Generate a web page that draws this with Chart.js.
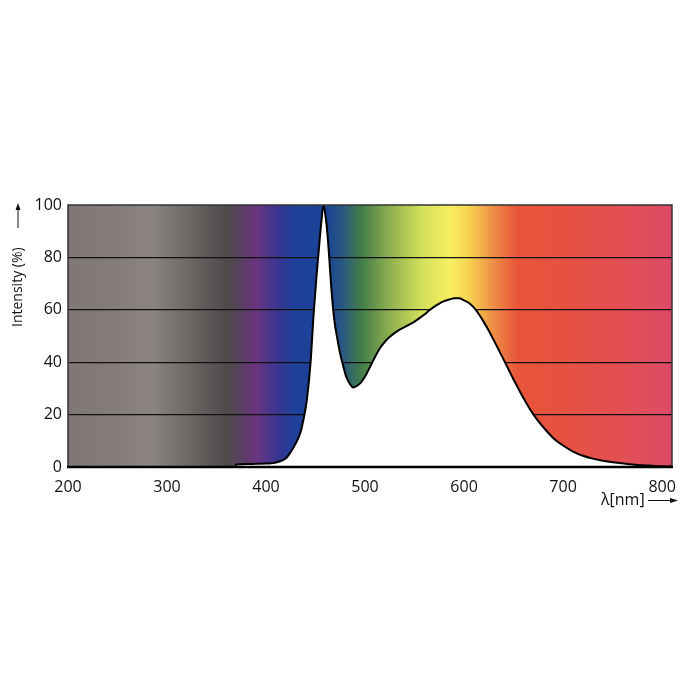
<!DOCTYPE html>
<html>
<head>
<meta charset="utf-8">
<script src="https://cdn.jsdelivr.net/npm/chart.js@4.4.1/dist/chart.umd.min.js"></script>
<style>
  body { margin: 0; background: #fff; }
  #wrap { width: 700px; height: 700px; }
</style>
</head>
<body>
<div id="wrap"><canvas id="spectrum" width="700" height="700"></canvas></div>
<script>
// wavelengths (nm) and relative intensity (%)
const wavelengths = [200, 369, 370, 380, 390, 400, 405, 410, 415, 420, 425, 430, 435, 438, 441, 445, 448, 451, 454, 456, 458, 460, 462, 464, 466, 469, 472, 475, 478, 481, 485, 488, 492, 496, 500, 505, 510, 515, 520, 525, 530, 535, 540, 545, 550, 555, 560, 565, 570, 575, 580, 585, 590, 595, 600, 605, 610, 615, 620, 625, 630, 635, 640, 645, 650, 655, 660, 665, 670, 675, 680, 690, 700, 710, 720, 730, 740, 750, 760, 770, 780, 790, 800, 810];
const intensity = [0, 0, 1.0, 1.1, 1.2, 1.3, 1.4, 1.7, 2.3, 3.3, 5.8, 9.0, 13.5, 18.5, 25, 40, 58, 73, 86, 94, 100, 96, 89, 79, 68, 56, 49, 43, 38.5, 34.5, 31.5, 30.3, 31, 32.3, 34.5, 38.2, 42, 45.3, 47.8, 49.7, 51.2, 52.4, 53.4, 54.4, 55.5, 56.8, 58.2, 59.8, 61.2, 62.4, 63.3, 63.9, 64.4, 64.4, 63.6, 62.6, 60.8, 58.3, 55.3, 52, 48.4, 44.7, 41, 37.2, 33.4, 29.8, 26.3, 23, 20.1, 17.5, 15.2, 11.1, 8.2, 5.9, 4.3, 3.2, 2.4, 1.8, 1.4, 1.0, 0.7, 0.5, 0.3, 0.2];

const xTicks = [200, 300, 400, 500, 600, 700, 800];
const yTicks = [0, 20, 40, 60, 80, 100];

// background spectrum colours (nm -> colour)
const bandNm = [199, 250, 285, 326, 360, 375, 390, 411, 427, 461, 478, 495, 525, 556, 586, 606, 630, 654, 697, 765, 810];
const bandColor = ['#7e7776', '#847d7c', '#8a8482', '#6a6462', '#4e4a4b', '#5a4060', '#6b3480', '#3a3590', '#1f409a', '#1a4495', '#2a5a80', '#3f7a4a', '#8fb050', '#d0de5a', '#f8f060', '#f6d050', '#ee8c45', '#e8553a', '#e65240', '#e24f55', '#dc4a68'];

const FONT = '"Open Sans", "DejaVu Sans", sans-serif';

const spectrumBg = {
    id: 'spectrumBg',
    beforeDraw(chart) {
        const { ctx, chartArea: a, scales: { x } } = chart;
        const g = ctx.createLinearGradient(a.left, 0, a.right, 0);
        bandNm.forEach((nm, i) => {
            let t = (x.getPixelForValue(nm) - a.left) / (a.right - a.left);
            g.addColorStop(Math.min(1, Math.max(0, t)), bandColor[i]);
        });
        ctx.save();
        ctx.fillStyle = g;
        ctx.fillRect(a.left, a.top, a.right - a.left, a.bottom - a.top);
        ctx.restore();
    }
};

// frame + axis titles with arrows
const frameAndTitles = {
    id: 'frameAndTitles',
    afterDatasetsDraw(chart) {
        const { ctx, chartArea: a } = chart;
        ctx.save();
        ctx.strokeStyle = '#333';
        ctx.lineWidth = 1.5;
        ctx.beginPath();
        ctx.moveTo(a.left, a.bottom);
        ctx.lineTo(a.left, a.top);
        ctx.lineTo(a.right, a.top);
        ctx.lineTo(a.right, a.bottom);
        ctx.stroke();
        ctx.strokeStyle = '#000';
        ctx.lineWidth = 2.5;
        ctx.beginPath();
        ctx.moveTo(a.left - 1, a.bottom);
        ctx.lineTo(a.right + 1, a.bottom);
        ctx.stroke();
        ctx.restore();
    },
    afterDraw(chart) {
        const { ctx } = chart;
        ctx.save();
        ctx.fillStyle = '#111';
        ctx.strokeStyle = '#111';
        ctx.font = '14px ' + FONT;

        // y title
        ctx.save();
        ctx.translate(18, 327);
        ctx.rotate(-Math.PI / 2);
        ctx.textAlign = 'left';
        ctx.textBaseline = 'middle';
        ctx.fillText('Intensity (%)', 0, 0);
        ctx.restore();
        ctx.lineWidth = 1;
        ctx.beginPath();
        ctx.moveTo(18, 228);
        ctx.lineTo(18, 208);
        ctx.stroke();
        ctx.beginPath();
        ctx.moveTo(18, 203);
        ctx.lineTo(15.5, 210);
        ctx.lineTo(20.5, 210);
        ctx.closePath();
        ctx.fill();

        // x title
        ctx.font = '16px ' + FONT;
        ctx.textAlign = 'left';
        ctx.textBaseline = 'middle';
        ctx.fillText('λ[nm]', 601, 500);
        ctx.beginPath();
        ctx.moveTo(648, 500.5);
        ctx.lineTo(672, 500.5);
        ctx.stroke();
        ctx.beginPath();
        ctx.moveTo(678, 500.5);
        ctx.lineTo(670, 498);
        ctx.lineTo(670, 503);
        ctx.closePath();
        ctx.fill();
        ctx.restore();
    }
};

const spectrumChart = new Chart(document.getElementById('spectrum').getContext('2d'), {
    type: 'line',
    data: {
        datasets: [{
            data: wavelengths.map((nm, i) => ({ x: nm, y: intensity[i] })),
            borderColor: '#000',
            borderWidth: 2,
            backgroundColor: '#fff',
            fill: 'origin',
            pointRadius: 0,
            cubicInterpolationMode: 'monotone'
        }]
    },
    options: {
        responsive: false,
        animation: false,
        layout: { padding: { top: 205, right: 28, left: 0, bottom: 193 } },
        plugins: { legend: { display: false }, tooltip: { enabled: false } },
        scales: {
            x: {
                type: 'linear',
                min: 200,
                max: 810,
                afterBuildTicks: s => { s.ticks = xTicks.map(v => ({ value: v })); },
                afterFit: s => { s.height = 40; },
                grid: { display: false },
                border: { display: false },
                ticks: { color: '#111', padding: 3, font: { family: FONT, size: 16 } }
            },
            y: {
                min: 0,
                max: 100,
                afterBuildTicks: s => { s.ticks = yTicks.map(v => ({ value: v })); },
                afterFit: s => { s.width = 68; },
                grid: {
                    drawTicks: false,
                    lineWidth: 1.2,
                    color: c => (c.tick && c.tick.value > 0 && c.tick.value < 100) ? '#111' : 'rgba(0,0,0,0)'
                },
                border: { display: false },
                ticks: { color: '#111', padding: 6, font: { family: FONT, size: 16 } }
            }
        }
    },
    plugins: [spectrumBg, frameAndTitles]
});
</script>
</body>
</html>
